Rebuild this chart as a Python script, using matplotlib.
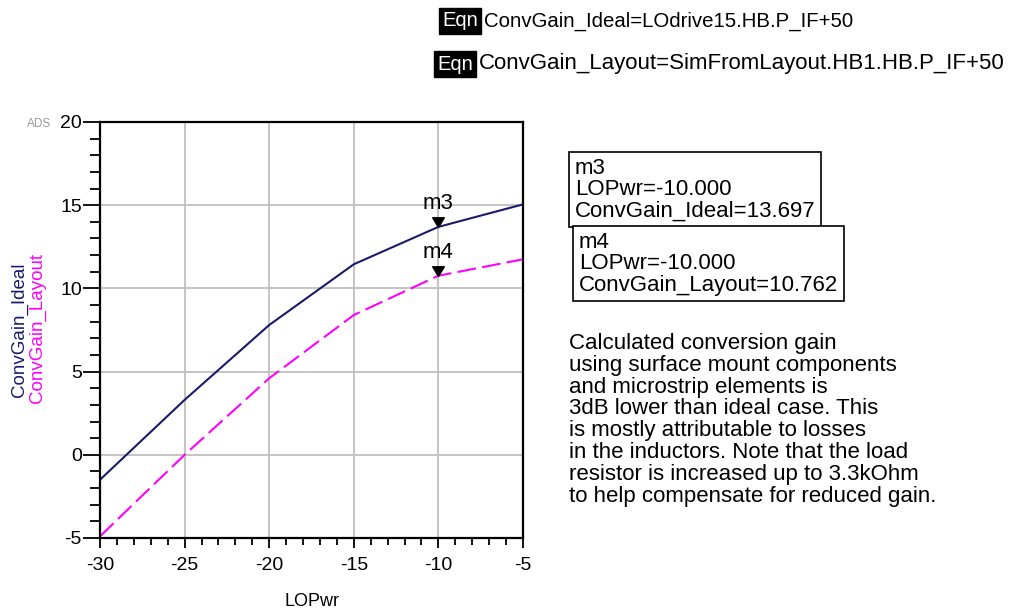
import numpy as np
import matplotlib
matplotlib.use('Agg')
import matplotlib.pyplot as plt
from matplotlib.path import Path
from matplotlib.ticker import MultipleLocator

plt.rcParams['font.family'] = ['Liberation Sans', 'DejaVu Sans']
plt.rcParams['axes.unicode_minus'] = False

# 01 Data
LOPwr = [-30, -25, -20, -15, -10, -5]
ConvGainIdeal = [-1.5, 3.3, 7.8, 11.45, 13.697, 15.05]
ConvGainLayout = [-4.9, 0.0, 4.6, 8.4, 10.762, 11.75]
MarkerIndex = 4
Equations = ['ConvGain_Ideal=LOdrive15.HB.P_IF+50',
             'ConvGain_Layout=SimFromLayout.HB1.HB.P_IF+50']
Note = ('Calculated conversion gain\n'
        'using surface mount components\n'
        'and microstrip elements is\n'
        '3dB lower than ideal case. This\n'
        'is mostly attributable to losses\n'
        'in the inductors. Note that the load\n'
        'resistor is increased up to 3.3kOhm\n'
        'to help compensate for reduced gain.')

IdealColor = (0.1, 0.1, 0.42)
LayoutColor = (1, 0, 1)

# Down triangle with its tip at the marker origin
TipDown = Path([(-0.6, 1.0), (0.6, 1.0), (0.0, 0.0), (-0.6, 1.0)],
               [Path.MOVETO, Path.LINETO, Path.LINETO, Path.CLOSEPOLY])

# 02 Plot
Figure = plt.figure(figsize=(10.11, 6.11), dpi=100)
Axes = Figure.add_axes([100/1011, 1-538/611, 423/1011, 416/611])

Axes.plot(LOPwr, ConvGainIdeal, color=IdealColor, linewidth=1.5)
Axes.plot(LOPwr, ConvGainLayout, color=LayoutColor, linewidth=1.5, dashes=(9, 3))

for Name, Values in [('m3', ConvGainIdeal), ('m4', ConvGainLayout)]:
    x, y = LOPwr[MarkerIndex], Values[MarkerIndex]
    Axes.plot([x], [y], linestyle='none', marker=TipDown, markersize=14, color='k')
    Axes.annotate(Name, (x, y), xytext=(0, 9), textcoords='offset points',
                  ha='center', va='bottom', fontsize=16)

Axes.set_xlim(-30, -5)
Axes.set_ylim(-5, 20)
Axes.xaxis.set_major_locator(MultipleLocator(5))
Axes.xaxis.set_minor_locator(MultipleLocator(1))
Axes.yaxis.set_major_locator(MultipleLocator(5))
Axes.yaxis.set_minor_locator(MultipleLocator(1))
Axes.tick_params(axis='x', which='major', length=7.5, width=1.3, labelsize=14, pad=6)
Axes.tick_params(axis='x', which='minor', length=5, width=1.3)
Axes.tick_params(axis='y', which='major', length=12, width=1.3, labelsize=14, pad=1)
Axes.tick_params(axis='y', which='minor', length=7, width=1.3)
Axes.grid(which='major', color=(0.75, 0.75, 0.75), linewidth=1.3)
for Spine in Axes.spines.values():
    Spine.set_linewidth(1.6)
Axes.set_xlabel('LOPwr', fontsize=13)
Axes.xaxis.set_label_coords(0.5, -0.132)

# Stacked y labels
Figure.text(19/1011, 1-330/611, 'ConvGain_Ideal', rotation=90, color=IdealColor,
            fontsize=13.5, ha='center', va='center')
Figure.text(37/1011, 1-328/611, 'ConvGain_Layout', rotation=90, color=LayoutColor,
            fontsize=13.5, ha='center', va='center')
Figure.text(39/1011, 1-124/611, 'ADS', color=(0.6, 0.6, 0.6), fontsize=8.5,
            ha='center', va='center')

# Equation blocks
for i, (Equation, Left, Size) in enumerate(zip(Equations, [442, 437], [14.7, 16])):
    y = 1 - (21 + 43*i)/611
    Figure.text(Left/1011, y, 'Eqn', color='w', fontsize=14.5, va='center',
                bbox=dict(boxstyle='square,pad=0.16', facecolor='k', edgecolor='k'))
    Figure.text((Left + 42)/1011, y, Equation, fontsize=Size, va='center')

# Marker readouts
Readouts = [('m3', 'ConvGain_Ideal', ConvGainIdeal, 575, 158),
            ('m4', 'ConvGain_Layout', ConvGainLayout, 579, 232)]
for Name, Label, Values, Left, Top in Readouts:
    Text = '%s\nLOPwr=%.3f\n%s=%.3f' % (Name, LOPwr[MarkerIndex], Label, Values[MarkerIndex])
    Figure.text(Left/1011, 1-Top/611, Text, fontsize=16, va='top', ha='left',
                linespacing=1.02,
                bbox=dict(boxstyle='square,pad=0.25', facecolor='w', edgecolor='k', linewidth=1.2))

Figure.text(569/1011, 1-333/611, Note, fontsize=16, va='top', ha='left', linespacing=1.05)

plt.savefig('out.png', dpi=100)
plt.close(Figure)
